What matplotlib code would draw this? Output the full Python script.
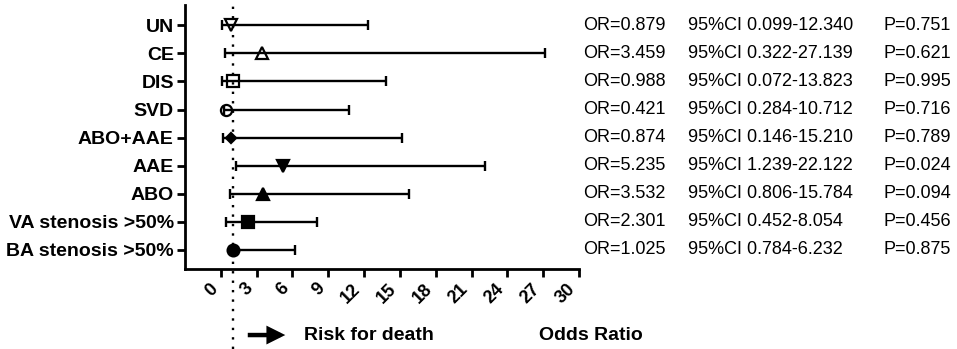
import matplotlib
matplotlib.use("Agg")
import matplotlib.pyplot as plt
import matplotlib.transforms as mtransforms
import numpy as np

plt.rcParams['font.family'] = ['Liberation Sans', 'DejaVu Sans']

# data (top to bottom)
groups = ['UN', 'CE', 'DIS', 'SVD', 'ABO+AAE', 'AAE', 'ABO',
          'VA stenosis >50%', 'BA stenosis >50%']
odds = [0.879, 3.459, 0.988, 0.421, 0.874, 5.235, 3.532, 2.301, 1.025]
ci_low = [0.099, 0.322, 0.072, 0.284, 0.146, 1.239, 0.806, 0.452, 0.784]
ci_high = [12.340, 27.139, 13.823, 10.712, 15.210, 22.122, 15.784, 8.054, 6.232]
p_vals = [0.751, 0.621, 0.995, 0.716, 0.789, 0.024, 0.094, 0.456, 0.875]
x_ticks = [0, 3, 6, 9, 12, 15, 18, 21, 24, 27, 30]
ref_or = 1

# marker, filled?, size
styles = [('v', False, 9), ('^', False, 9), ('s', False, 8.5), ('o', False, 8),
          ('D', True, 5), ('v', True, 8.5), ('^', True, 8.5), ('s', True, 8),
          ('o', True, 8.5)]

fig = plt.figure(figsize=(9.57, 3.49), dpi=100)
ax = fig.add_axes([0.1933, 0.229, 0.4117, 0.7567])

ypos = np.arange(len(groups))[::-1]
for i, y in enumerate(ypos):
    mk, filled, ms = styles[i]
    err = [[odds[i] - ci_low[i]], [ci_high[i] - odds[i]]]
    ax.errorbar(odds[i], y, xerr=err, fmt='none', ecolor='black',
                elinewidth=1.7, capsize=3.8, capthick=1.7)
    ax.plot(odds[i], y, marker=mk, ms=ms, color='black', mew=1.6,
            mfc='black' if filled else 'none', zorder=3)

ax.axvline(ref_or, ymin=-0.303, ymax=1, color='black', lw=1.7,
           linestyle=(0, (1, 3.0)), clip_on=False, zorder=1)

ax.set_xlim(-3, 30)
ax.set_ylim(-0.68, 8.72)
ax.set_yticks(ypos)
ax.set_yticklabels(groups, fontsize=14, fontweight='bold')
ax.set_xticks(x_ticks)
ax.set_xticklabels([str(t) for t in x_ticks], rotation=45, ha='right',
                   va='top', fontsize=13, fontweight='bold')

for side in ['top', 'right']:
    ax.spines[side].set_visible(False)
for side in ['left', 'bottom']:
    ax.spines[side].set_linewidth(2)
ax.tick_params(axis='both', width=2, length=6, direction='out', pad=2)

# text columns on the right
trans = mtransforms.blended_transform_factory(fig.transFigure, ax.transData)
for i, y in enumerate(ypos):
    ax.text(0.609, y, 'OR=%.3f' % odds[i], transform=trans, fontsize=13,
            va='center', ha='left')
    ax.text(0.719, y, '95%%CI %.3f-%.3f' % (ci_low[i], ci_high[i]),
            transform=trans, fontsize=13, va='center', ha='left')
    ax.text(0.923, y, 'P=%.3f' % p_vals[i], transform=trans, fontsize=13,
            va='center', ha='left')

# bottom annotation
fig.add_artist(matplotlib.patches.FancyArrowPatch(
    (0.256, 0.040), (0.301, 0.040), transform=fig.transFigure,
    arrowstyle='-|>', mutation_scale=21, lw=3.2, color='black',
    capstyle='butt', joinstyle='miter'))
fig.text(0.318, 0.040, 'Risk for death', fontsize=14, fontweight='bold',
         va='center', ha='left')
fig.text(0.563, 0.040, 'Odds Ratio', fontsize=14, fontweight='bold',
         va='center', ha='left')

fig.savefig('out.png', dpi=100)
